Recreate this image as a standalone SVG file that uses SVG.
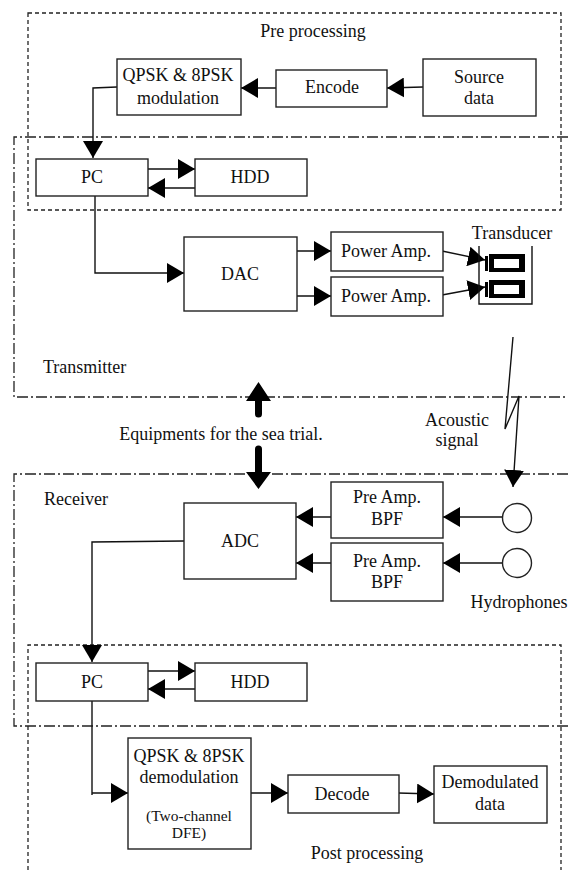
<svg xmlns="http://www.w3.org/2000/svg" width="568" height="870" viewBox="0 0 568 870">
<defs>
<style>
text{font-family:"Liberation Serif","Times New Roman",serif;font-size:18px;fill:#111;text-anchor:middle}
.l{text-anchor:start}
.s{font-size:15.5px}
rect.b{fill:#fff;stroke:#222;stroke-width:1.4}
.h{fill:#fff;stroke:#222;stroke-width:1.4}
.c{fill:none;stroke:#111;stroke-width:1.4}
.dash{fill:none;stroke:#222;stroke-width:1.3;stroke-dasharray:4 3}
.dd{fill:none;stroke:#222;stroke-width:1.3;stroke-dasharray:11 3 2 3}
.big{stroke:#000;stroke-width:7;stroke-linecap:round;fill:none}
</style>
<marker id="a" markerUnits="userSpaceOnUse" markerWidth="18" markerHeight="20" refX="17" refY="10" orient="auto"><path d="M0 0L17 10L0 20Z" fill="#000"/></marker>
</defs>
<g id="regions">
<path class="dash" d="M28 13H561V210H28Z"/>
<path class="dd" d="M568 137H14V397H568"/>
<path class="dd" d="M568 474H14V726H568"/>
<path class="dash" d="M28 870V645H561V870"/>
</g>
<g id="connectors">
<path class="c" marker-end="url(#a)" d="M423 87L387 88"/>
<path class="c" marker-end="url(#a)" d="M276 88H241"/>
<path class="c" marker-end="url(#a)" d="M117 87L93 88V158"/>
<path class="c" marker-end="url(#a)" d="M147 169H195"/>
<path class="c" marker-end="url(#a)" d="M195 188H148"/>
<path class="c" marker-end="url(#a)" d="M95 196V273H184"/>
<path class="c" marker-end="url(#a)" d="M297 251H331"/>
<path class="c" marker-end="url(#a)" d="M297 296H331"/>
<path class="c" marker-end="url(#a)" d="M442 251L485 260"/>
<path class="c" marker-end="url(#a)" d="M442 295L485 287"/>
<path class="c" marker-end="url(#a)" d="M513 337L505 429L519 396L513 487"/>
<path class="c" marker-end="url(#a)" d="M502 517H443"/>
<path class="c" marker-end="url(#a)" d="M502 563H443"/>
<path class="c" marker-end="url(#a)" d="M331 517H296"/>
<path class="c" marker-end="url(#a)" d="M331 563H296"/>
<path class="c" marker-end="url(#a)" d="M184 541L92 542V662"/>
<path class="c" marker-end="url(#a)" d="M147 671H195"/>
<path class="c" marker-end="url(#a)" d="M195 689H148"/>
<path class="c" d="M92 701V795"/>
<path class="c" marker-end="url(#a)" d="M92 793H128"/>
<path class="c" marker-end="url(#a)" d="M251 793H288"/>
<path class="c" marker-end="url(#a)" d="M398 793L434 794"/>
<path class="big" d="M258.500 398V414M258.500 449V473"/>
<path d="M258.500 382L271 401H246ZM258.500 489L271 472H246Z" fill="#000"/>
</g>
<g id="pre-label"><text x="313" y="37">Pre processing</text></g>
<g id="source"><rect class="b" x="423" y="59" width="113" height="57"/><text x="479" y="83">Source</text><text x="479" y="104">data</text></g>
<g id="encode"><rect class="b" x="276" y="70" width="111" height="37"/><text x="332" y="93">Encode</text></g>
<g id="mod"><rect class="b" x="117" y="59" width="124" height="56"/><text x="178" y="81">QPSK &amp; 8PSK</text><text x="178" y="104">modulation</text></g>
<g id="pc1"><rect class="b" x="36" y="159" width="112" height="37"/><text x="92" y="183">PC</text></g>
<g id="hdd1"><rect class="b" x="195" y="159" width="112" height="37"/><text x="250" y="183">HDD</text></g>
<g id="dac"><rect class="b" x="184" y="237" width="113" height="74"/><text x="240" y="280">DAC</text></g>
<g id="pa1"><rect class="b" x="331" y="232" width="112" height="39"/><text x="386" y="257">Power Amp.</text></g>
<g id="pa2"><rect class="b" x="331" y="277" width="112" height="39"/><text x="386" y="302">Power Amp.</text></g>
<g id="transducer"><text x="512" y="239">Transducer</text><path class="c" d="M479 246V304H532V246"/>
<path fill-rule="evenodd" d="M485 256h3v15h-3zM489 254h36v18h-36zM494 259v9h25v-9zM485 282h3v15h-3zM489 280h36v18h-36zM494 285v9h25v-9z" fill="#000"/></g>
<g id="tx-label"><text class="l" x="43" y="373">Transmitter</text></g>
<g id="sea"><text x="221" y="440">Equipments for the sea trial.</text></g>
<g id="acoustic"><text x="457" y="426">Acoustic</text><text x="457" y="446">signal</text></g>
<g id="rx-label"><text class="l" x="44" y="505">Receiver</text></g>
<g id="adc"><rect class="b" x="184" y="503" width="112" height="76"/><text x="240" y="547">ADC</text></g>
<g id="bpf1"><rect class="b" x="331" y="482" width="112" height="56"/><text x="387" y="503">Pre Amp.</text><text x="387" y="525">BPF</text></g>
<g id="bpf2"><rect class="b" x="331" y="543" width="112" height="58"/><text x="387" y="567">Pre Amp.</text><text x="387" y="588">BPF</text></g>
<g id="h1"><circle class="h" cx="517" cy="518" r="14.500"/></g>
<g id="h2"><circle class="h" cx="517" cy="563" r="14.500"/></g>
<g id="hydro-label"><text x="519" y="608">Hydrophones</text></g>
<g id="pc2"><rect class="b" x="36" y="663" width="112" height="38"/><text x="92" y="688">PC</text></g>
<g id="hdd2"><rect class="b" x="195" y="663" width="112" height="38"/><text x="250" y="688">HDD</text></g>
<g id="demod"><rect class="b" x="128" y="738" width="123" height="111"/><text x="189" y="762">QPSK &amp; 8PSK</text><text x="189" y="783">demodulation</text><text class="s" x="189" y="821">(Two-channel</text><text class="s" x="189" y="838">DFE)</text></g>
<g id="decode"><rect class="b" x="288" y="775" width="111" height="38"/><text x="342" y="800">Decode</text></g>
<g id="data"><rect class="b" x="434" y="766" width="113" height="57"/><text x="490" y="788">Demodulated</text><text x="490" y="810">data</text></g>
<g id="post-label"><text x="367" y="859">Post processing</text></g>
</svg>
